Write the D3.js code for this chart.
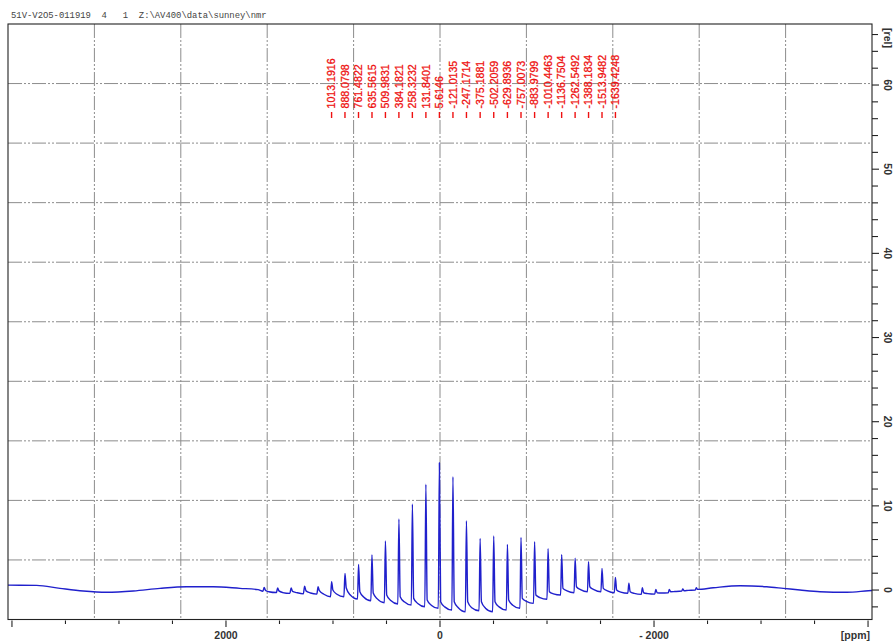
<!DOCTYPE html>
<html>
<head>
<meta charset="utf-8">
<script src="https://cdn.jsdelivr.net/npm/d3@7"></script>
<style>
  body { margin: 0; background: #fff; }
  svg { display: block; }
</style>
</head>
<body>
<svg id="chart" width="895" height="641"></svg>
<script>
// header line of the plot
const title_text = "51V-V2O5-011919  4   1  Z:\\AV400\\data\\sunney\\nmr"

// picked peaks (ppm) -- labels drawn in red above the spectrum
const peak_ppm = [1013.1916, 888.0798, 761.4822, 635.5615, 509.9831, 384.1821, 258.3232, 131.8401,
    5.6146, -121.0135, -247.1714, -375.1881, -502.2059, -629.8936, -757.0073, -883.9799,
    -1010.4463, -1136.7504, -1262.5492, -1388.1834, -1513.9482, -1639.4248]

// spectrum trace: [ppm, rel. intensity]
const spectrum = [
    [4037, 0.58], [3769, 0.56], [3551, 0.20], [3334, -0.12], [3115, -0.27], [2866, -0.12],
    [2617, 0.20], [2367, 0.39], [2119, 0.39], [1869, 0.20], [1700, 0.05],
    [1655, -0.15], [1643, 0.30], [1630, -0.05], [1600, -0.20],
    [1529, -0.30], [1517, 0.25], [1505, -0.10], [1470, -0.30],
    [1403, -0.40], [1391, 0.25], [1378, -0.15], [1340, -0.30],
    [1277, -0.45], [1265, 0.45], [1252, -0.10], [1210, -0.35],
    [1151, -0.48], [1139, 0.39], [1127, -0.08], [1085, -0.50],
    [1023, -0.80], [1013, 0.99], [1001, 0.00], [963, -0.50],
    [898, -0.80], [888, 1.98], [876, 0.24], [838, -0.60],
    [771, -1.07], [761, 3.05], [749, -0.20], [711, -0.85],
    [646, -1.27], [636, 4.16], [624, -0.36], [586, -1.05],
    [520, -1.51], [510, 5.82], [498, -0.59], [460, -1.25],
    [394, -1.66], [384, 8.44], [372, -0.80], [334, -1.40],
    [268, -1.78], [258, 10.22], [246, -0.99], [208, -1.60],
    [142, -1.98], [132, 12.56], [120, -1.19], [82, -1.80],
    [16, -2.17], [5.6, 15.12], [-6, -1.39], [-44, -2.00],
    [-111, -2.38], [-121, 13.46], [-133, -1.39], [-171, -2.10],
    [-237, -2.58], [-247, 8.23], [-259, -1.39], [-297, -2.10],
    [-365, -2.46], [-375, 6.14], [-387, -1.39], [-425, -2.15],
    [-492, -2.58], [-502, 6.42], [-514, -1.39], [-552, -2.00],
    [-620, -2.38], [-630, 5.43], [-642, -1.19], [-680, -1.80],
    [-747, -2.17], [-757, 6.26], [-769, -0.99], [-807, -1.35],
    [-874, -1.58], [-884, 5.74], [-896, -0.59], [-934, -0.90],
    [-1000, -1.10], [-1010, 4.91], [-1022, -0.20], [-1060, -0.45],
    [-1127, -0.59], [-1137, 4.19], [-1149, 0.20], [-1187, -0.10],
    [-1253, -0.32], [-1263, 3.77], [-1275, 0.39], [-1313, 0.05],
    [-1378, -0.20], [-1388, 3.36], [-1400, 0.39], [-1438, 0.05],
    [-1504, -0.20], [-1514, 2.58], [-1526, 0.20], [-1564, -0.10],
    [-1629, -0.32], [-1639, 1.51], [-1651, 0.00], [-1689, -0.25],
    [-1755, -0.39], [-1765, 0.80], [-1777, -0.20], [-1815, -0.40],
    [-1881, -0.51], [-1891, 0.27], [-1903, -0.32], [-1941, -0.42],
    [-2007, -0.48], [-2017, 0.08], [-2029, -0.32], [-2067, -0.35],
    [-2133, -0.32], [-2143, 0.08], [-2155, -0.20], [-2193, -0.18],
    [-2259, -0.12], [-2269, 0.12], [-2281, -0.08], [-2319, -0.04],
    [-2385, 0.00], [-2395, 0.27], [-2407, 0.08],
    [-2554, 0.27], [-2804, 0.51], [-3053, 0.39], [-3208, 0.20], [-3364, 0.00],
    [-3551, -0.20], [-3801, -0.27], [-4003, -0.08], [-4037, -0.05]
]

// axis ticks
const x_major_ticks = [4000, 2000, 0, -2000, -4000]
const x_minor_ticks = d3.range(-4000, 4001, 500)
const x_tick_labels = [[2000, "2000"], [0, "0"], [-2000, "- 2000"]]
const y_major_ticks = [0, 10, 20, 30, 40, 50, 60]
const y_minor_ticks = d3.range(-2, 67, 2)

// frame
const frame = {left: 8, right: 872, top: 24, bottom: 619.5}

const svg = d3.select("#chart")

const x = d3.scaleLinear().domain([4037, -4037]).range([frame.left, frame.right])
const y = d3.scaleLinear().domain([-3.5, 67.25]).range([frame.bottom, frame.top])

// title
svg.append("text")
    .attr("x", 11).attr("y", 18)
    .attr("font-family", "Liberation Mono, DejaVu Sans Mono, monospace")
    .attr("font-size", 8.9)
    .attr("fill", "#444")
    .style("white-space", "pre")
    .text(title_text)

// grid -- ten equal divisions of the frame, dash-dot-dot
const grid = svg.append("g")
    .attr("stroke", "#8c8c8c")
    .attr("stroke-width", 1)
    .attr("stroke-dasharray", "14,2,2,2,2,2")
const w = frame.right - frame.left, h = frame.bottom - frame.top
d3.range(1, 10).forEach(i => {
    grid.append("line")
        .attr("x1", frame.left + w*i/10).attr("x2", frame.left + w*i/10)
        .attr("y1", frame.top).attr("y2", frame.bottom)
    grid.append("line")
        .attr("x1", frame.left).attr("x2", frame.right)
        .attr("y1", frame.top + h*i/10).attr("y2", frame.top + h*i/10)
})

// spectrum
const line = d3.line()
    .x(d => x(d[0]))
    .y(d => y(d[1]))
    .curve(d3.curveMonotoneX)

svg.append("path")
    .datum(spectrum)
    .attr("d", line)
    .attr("fill", "none")
    .attr("stroke", "#2020cc")
    .attr("stroke-width", 1.4)
    .attr("stroke-linejoin", "round")

// frame box
svg.append("rect")
    .attr("x", frame.left).attr("y", frame.top)
    .attr("width", w).attr("height", h)
    .attr("fill", "none")
    .attr("stroke", "#222")
    .attr("stroke-width", 1.1)

// bottom ticks
const xt = svg.append("g").attr("stroke", "#222").attr("stroke-width", 1.1)
x_minor_ticks.forEach(v => {
    let major = x_major_ticks.includes(v)
    xt.append("line")
        .attr("x1", x(v)).attr("x2", x(v))
        .attr("y1", frame.bottom + 1).attr("y2", frame.bottom + (major ? 7.5 : 4.5))
})
x_tick_labels.forEach(([v, s]) => {
    svg.append("text")
        .attr("x", x(v)).attr("y", 638.5)
        .attr("text-anchor", "middle")
        .attr("font-family", "Liberation Sans, Arial, sans-serif")
        .attr("font-size", 10.5).attr("font-weight", "bold")
        .attr("fill", "#333")
        .style("white-space", "pre")
        .text(s)
})
svg.append("text")
    .attr("x", 870).attr("y", 638.5)
    .attr("text-anchor", "end")
    .attr("font-family", "Liberation Sans, Arial, sans-serif")
    .attr("font-size", 10.5).attr("font-weight", "bold")
    .attr("fill", "#333")
    .text("[ppm]")

// right ticks
const yt = svg.append("g").attr("stroke", "#222").attr("stroke-width", 1.1)
y_minor_ticks.forEach(v => {
    let major = y_major_ticks.includes(v)
    yt.append("line")
        .attr("x1", frame.right).attr("x2", frame.right + (major ? 7 : 6))
        .attr("y1", y(v)).attr("y2", y(v))
})
y_major_ticks.forEach(v => {
    svg.append("text")
        .attr("transform", `translate(883.5,${y(v)}) rotate(90)`)
        .attr("text-anchor", "middle")
        .attr("font-family", "Liberation Sans, Arial, sans-serif")
        .attr("font-size", 10.5).attr("font-weight", "bold")
        .attr("fill", "#333")
        .text(v)
})
svg.append("text")
    .attr("transform", `translate(883.5,38) rotate(90)`)
    .attr("text-anchor", "middle")
    .attr("font-family", "Liberation Sans, Arial, sans-serif")
    .attr("font-size", 10.5).attr("font-weight", "bold")
    .attr("fill", "#333")
    .text("[rel]")

// peak labels
const labels = svg.append("g")
peak_ppm.forEach(p => {
    let px = x(p)
    labels.append("line")
        .attr("x1", px).attr("x2", px)
        .attr("y1", 112).attr("y2", 118)
        .attr("stroke", "#ee1111").attr("stroke-width", 1.4)
    labels.append("text")
        .attr("transform", `translate(${px + 3.8},108.5) rotate(-90)`)
        .attr("font-family", "Liberation Sans, Arial, sans-serif")
        .attr("font-size", 10.6)
        .attr("fill", "#ee1111")
        .attr("stroke", "#ee1111").attr("stroke-width", 0.3)
        .text(p.toFixed(4))
})
</script>
</body>
</html>
